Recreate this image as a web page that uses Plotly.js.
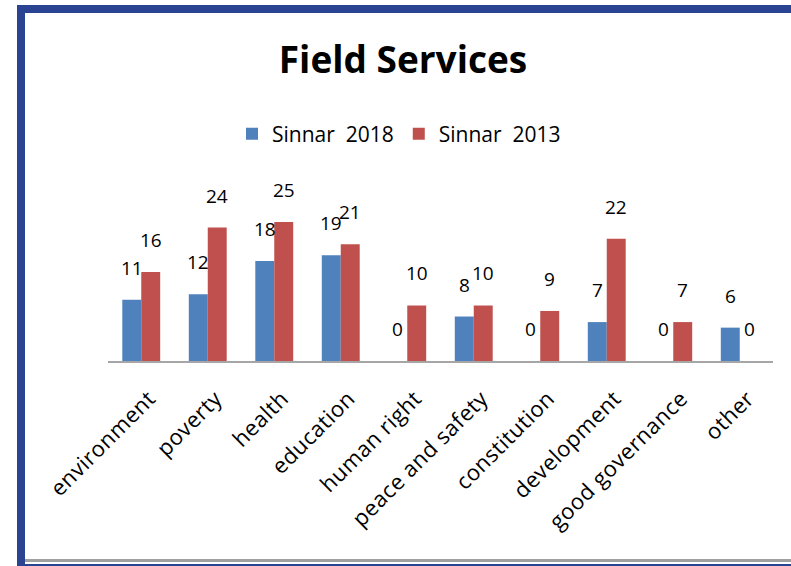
<!DOCTYPE html>
<html>
<head>
<meta charset="utf-8">
<script src="https://cdn.plot.ly/plotly-3.0.1.min.js"></script>
<style>
html,body{margin:0;padding:0;background:#fff;}
#chart{width:791px;height:566px;}
#chart .xtick text{letter-spacing:0.5px;}
</style>
</head>
<body>
<div id="chart"></div>
<script>
const categories = ["environment","poverty","health","education","human right","peace and safety","constitution","development","good governance","other"];
const sinnar2018 = [11,12,18,19,0,8,0,7,0,6];
const sinnar2013 = [16,24,25,21,10,10,9,22,7,0];
const seriesNames = ["Sinnar\u00a0\u00a02018","Sinnar\u00a0\u00a02013"];
const chartTitle = "Field Services";

// plot area geometry (pixels)
const W = 791, H = 566;
const L = 108, R = 18, T = 180, B = 205;
const pw = W - L - R, ph = H - T - B;
function px(x){ return (x - L) / pw; }
function py(y){ return (H - B - y) / ph; }

const blue = "#4F81BD", red = "#C0504D", frame = "#2B4393";

const traces = [
  {type:"bar", name:seriesNames[0], x:categories, y:sinnar2018, marker:{color:blue}, hoverinfo:"none"},
  {type:"bar", name:seriesNames[1], x:categories, y:sinnar2013, marker:{color:red}, hoverinfo:"none"}
];

// data labels, one per bar, placed with the axis scales
const labelFont = {family:"Open Sans", size:19, color:"#000"};
const annotations = [];
[sinnar2018, sinnar2013].forEach(function(vals, s){
  vals.forEach(function(v, i){
    annotations.push({x:categories[i], y:v, xref:"x", yref:"y", text:String(v),
      showarrow:false, xanchor:"center", yanchor:"bottom",
      xshift:(s === 0 ? -9.5 : 9.5), yshift:17, font:labelFont});
  });
});

const layout = {
  width:W, height:H,
  margin:{l:L, r:R, t:T, b:B, pad:0},
  paper_bgcolor:"#fff", plot_bgcolor:"#fff",
  font:{family:"Open Sans", color:"#000"},
  title:{text:"<b>"+chartTitle+"</b>", font:{family:"Open Sans", size:37, color:"#000"},
         x:403/W, xanchor:"center", xref:"container", y:1-60/H, yref:"container", yanchor:"middle"},
  barmode:"group", bargap:0.43, bargroupgap:0,
  showlegend:true,
  legend:{orientation:"h", x:px(399), xanchor:"center", y:py(134), yanchor:"middle",
          font:{family:"Open Sans", size:21, color:"#000"}, itemwidth:30, tracegroupgap:0,
          bgcolor:"rgba(0,0,0,0)"},
  xaxis:{type:"category", showline:true, linecolor:"#A6A6A6", linewidth:2,
         showgrid:false, zeroline:false, ticks:"", tickangle:-45,
         ticklabelstandoff:14, ticklabelshift:8,
         tickfont:{family:"Open Sans", size:22, color:"#000"}, fixedrange:true},
  yaxis:{range:[0,(H-B-T)/5.56], visible:false, showgrid:false, zeroline:false, fixedrange:true},
  annotations:annotations,
  shapes:[
    {type:"rect", xref:"paper", yref:"paper", x0:px(17), x1:px(791), y0:py(13), y1:py(5), fillcolor:frame, line:{width:0}, layer:"above"},
    {type:"rect", xref:"paper", yref:"paper", x0:px(17), x1:px(25), y0:py(566), y1:py(5), fillcolor:frame, line:{width:0}, layer:"above"},
    {type:"rect", xref:"paper", yref:"paper", x0:px(25), x1:px(791), y0:py(562), y1:py(559), fillcolor:"#A0A0A0", line:{width:0}, layer:"above"},
    {type:"rect", xref:"paper", yref:"paper", x0:px(25), x1:px(791), y0:py(566), y1:py(564), fillcolor:frame, line:{width:0}, layer:"above"}
  ]
};

Plotly.newPlot("chart", traces, layout, {displayModeBar:false, staticPlot:true});
</script>
</body>
</html>
